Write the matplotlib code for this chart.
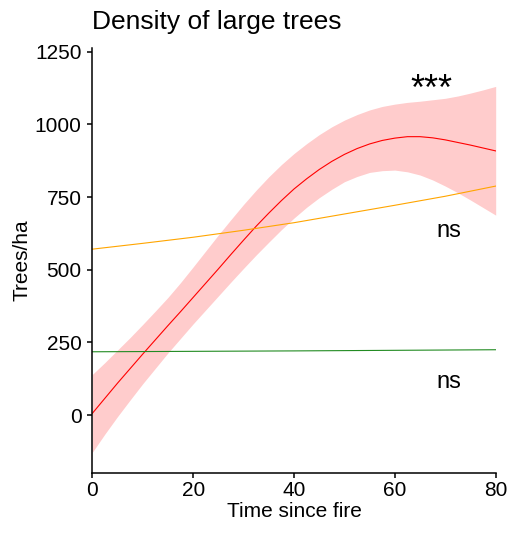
import matplotlib
matplotlib.use("Agg")
import matplotlib.pyplot as plt
import numpy as np

plt.rcParams['font.family'] = ['Liberation Sans', 'DejaVu Sans']

# Data
time = [0, 2.5, 5, 7.5, 10, 12.5, 15, 17.5, 20, 22.5, 25, 27.5, 30, 32.5, 35, 37.5,
        40, 42.5, 45, 47.5, 50, 52.5, 55, 57.5, 60, 62.5, 65, 67.5, 70, 72.5, 75, 77.5, 80]
fit_red = [6, 58, 110, 160, 210, 259, 308, 356, 405, 454, 503, 553, 602, 650, 695, 738,
           778, 813, 845, 873, 897, 917, 933, 945, 953, 958, 958, 954, 947, 938, 929, 919, 909]
upper_red = [140, 181, 224, 267, 312, 358, 405, 456, 510, 565, 620, 673, 725, 774, 820, 862,
             900, 934, 965, 992, 1015, 1034, 1050, 1062, 1070, 1076, 1080, 1085, 1090, 1098, 1108, 1119, 1131]
lower_red = [-128, -65, -5, 52, 108, 161, 214, 264, 314, 362, 410, 458, 505, 551, 595, 638,
             678, 715, 748, 777, 803, 821, 835, 841, 843, 837, 826, 809, 788, 765, 740, 714, 688]

time_orange = [0, 10, 20, 30, 40, 50, 60, 70, 80]
fit_orange = [571, 591, 612, 636, 662, 692, 722, 753, 788]

time_green = [0, 40, 80]
fit_green = [218, 221, 225]

labels = ["***", "ns", "ns"]
label_x = [67.3, 70.8, 70.8]
label_y = [1083, 614, 93]
label_sizes = [26, 17, 17]

xticks = [0, 20, 40, 60, 80]
yticks = [0, 250, 500, 750, 1000, 1250]

fig = plt.figure(figsize=(5.17, 5.39), dpi=100)
W, H = 517, 539
left, right, top, bottom = 92.3, 495.7, 48.3, 472.7
ax = fig.add_axes([left / W, 1 - bottom / H, (right - left) / W, (bottom - top) / H])

ax.fill_between(time, lower_red, upper_red, color='red', alpha=0.2, linewidth=0)
ax.plot(time, fit_red, color='red', lw=0.8)
ax.plot(time_orange, fit_orange, color='orange', lw=0.8)
ax.plot(time_green, fit_green, color='#228B22', lw=0.8)

for t, x, y, s in zip(labels, label_x, label_y, label_sizes):
    ax.text(x, y, t, ha='center', va='baseline', fontsize=s, color='black')

ax.set_xlim(0, 80)
ax.set_ylim(-198, 1262)
ax.set_xticks(xticks)
ax.set_yticks(yticks)

for s in ['top', 'right']:
    ax.spines[s].set_visible(False)
for s in ['left', 'bottom']:
    ax.spines[s].set_linewidth(1.1)
    ax.spines[s].set_color('black')

ax.tick_params(axis='both', length=3.6, width=1.1, color='black', labelsize=15, labelcolor='black')
ax.tick_params(axis='x', pad=2.5)
ax.tick_params(axis='y', pad=4)

ax.set_xlabel("Time since fire", fontsize=15, labelpad=1.5)
ax.set_ylabel("Trees/ha", fontsize=15, labelpad=2.5)

fig.text(left / W, 1 - 29.3 / H, "Density of large trees", fontsize=19,
         ha='left', va='baseline')

fig.savefig("out.png", dpi=100)
